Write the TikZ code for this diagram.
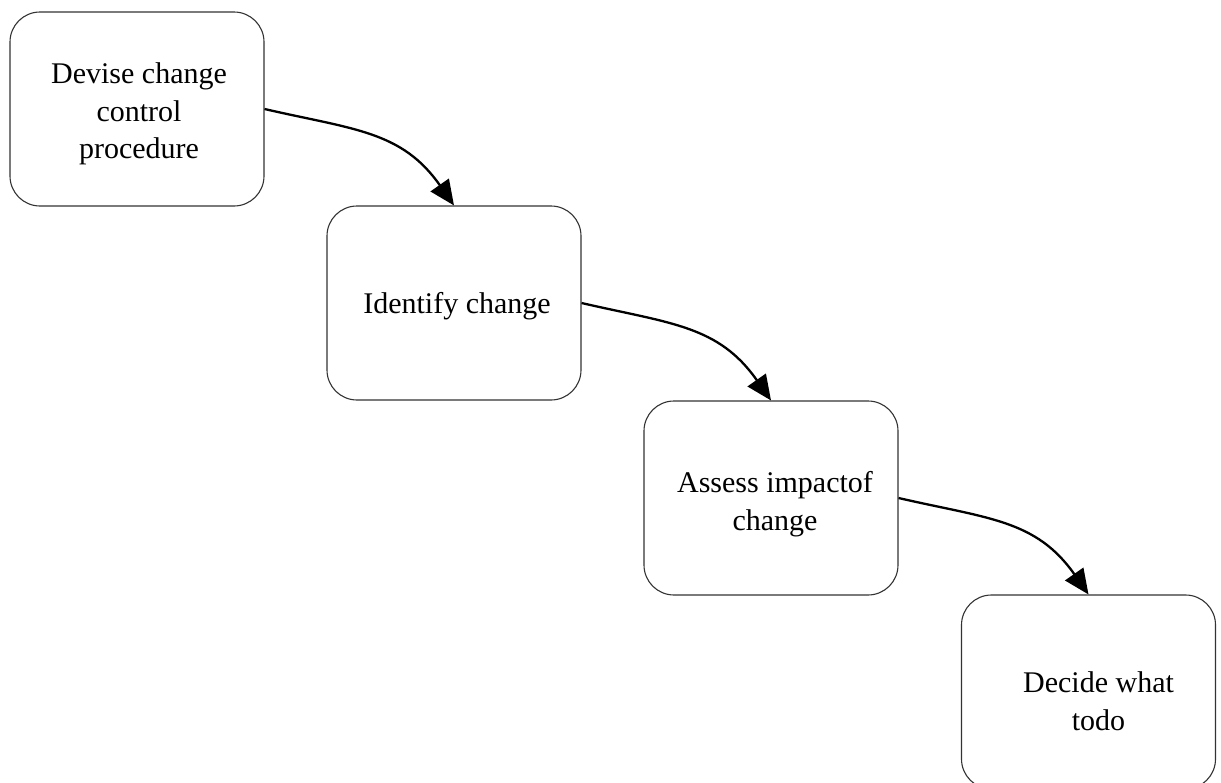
\documentclass[tikz,border=0pt]{standalone}
\usepackage{fontspec}
\setmainfont{Liberation Serif}
\usetikzlibrary{arrows.meta}

\tikzset{
  stepbox/.style={draw=black!80, line width=1.1pt, rounded corners=30pt,
    minimum width=254pt, minimum height=194pt, inner sep=0pt},
  steptext/.style={align=center, inner sep=0pt,
    font=\fontsize{30}{37.5}\selectfont},
  flow/.style={line width=2.3pt, -{Triangle[length=25pt,width=22pt]}}
}

\begin{document}
\begin{tikzpicture}[x=1pt,y=1pt]
  \useasboundingbox (0,0) rectangle (1221,-782);
  \clip (0,0) rectangle (1221,-782);

  % process steps
  \node[stepbox] (b1) at (137,-109) {};
  \node[stepbox] (b2) at (454,-303) {};
  \node[stepbox] (b3) at (771,-498) {};
  \node[stepbox] (b4) at (1088.5,-692) {};

  \node[steptext] (t1) at ([xshift=2pt,yshift=-5pt]b1.center) {Devise change\\control\\procedure};
  \node[steptext] (t2) at ([xshift=3pt,yshift=-3pt]b2.center) {Identify change};
  \node[steptext] (t3) at ([xshift=4pt,yshift=-6pt]b3.center) {Assess impactof\\change};
  \node[steptext] (t4) at ([xshift=10pt,yshift=-9pt]b4.center) {Decide what\\todo};

  % connectors
  \draw[flow] (b1.east) to[out=-13, in=125, looseness=1.1] (b2.north);
  \draw[flow] (b2.east) to[out=-13, in=125, looseness=1.1] (b3.north);
  \draw[flow] (b3.east) to[out=-13, in=125, looseness=1.1] (b4.north);
\end{tikzpicture}
\end{document}
